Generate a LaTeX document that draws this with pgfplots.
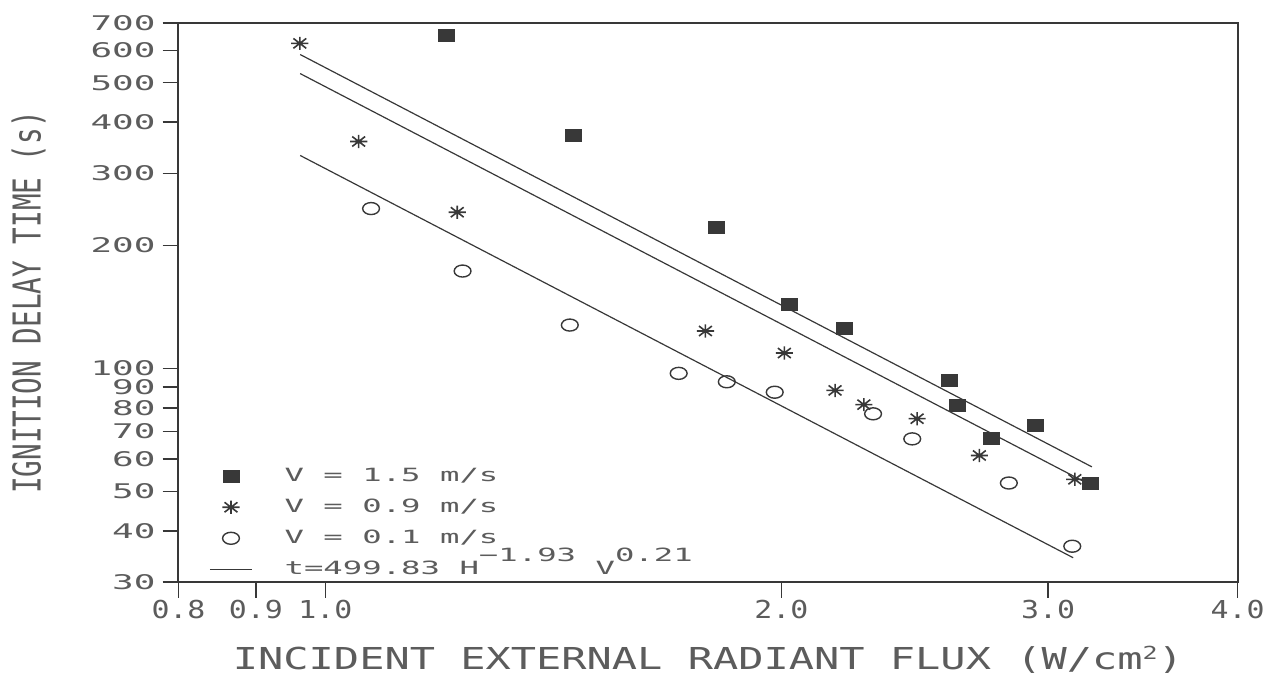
\documentclass[border=0pt]{standalone}
\usepackage{fontspec}
\setmainfont{DejaVu Sans Mono}
\usepackage{graphicx}
\usepackage{pgfplots}
\pgfplotsset{compat=1.18}
\newfontfamily\pf{DejaVu Sans Mono}
\definecolor{ink}{gray}{0.22}
\definecolor{txt}{gray}{0.36}
\newcommand\ytl[1]{\scalebox{1.78}[1]{\pf\fontsize{10.1pt}{12pt}\selectfont #1}}
\newcommand\xtl[1]{\scalebox{1.21}[1]{\pf\fontsize{12.35pt}{14pt}\selectfont #1}}
\newcommand\lgt[1]{\scalebox{1.77}[1]{\pf\fontsize{9.12pt}{11pt}\selectfont #1}}
\pgfdeclareplotmark{ast8}{%
  \pgfpathmoveto{\pgfpoint{0pt}{\pgfplotmarksize}}\pgfpathlineto{\pgfpoint{0pt}{-\pgfplotmarksize}}%
  \pgfpathmoveto{\pgfpoint{\pgfplotmarksize}{0pt}}\pgfpathlineto{\pgfpoint{-\pgfplotmarksize}{0pt}}%
  \pgfpathmoveto{\pgfpoint{0.75\pgfplotmarksize}{0.75\pgfplotmarksize}}\pgfpathlineto{\pgfpoint{-0.75\pgfplotmarksize}{-0.75\pgfplotmarksize}}%
  \pgfpathmoveto{\pgfpoint{0.75\pgfplotmarksize}{-0.75\pgfplotmarksize}}\pgfpathlineto{\pgfpoint{-0.75\pgfplotmarksize}{0.75\pgfplotmarksize}}%
  \pgfusepathqstroke}
\pgfplotstableread{
H t
1.202 654
1.459 372
1.812 221
2.023 143
2.201 125
2.582 93.5
2.612 81.2
2.752 67.5
2.944 72.4
3.199 52.4
}\vhigh
\pgfplotstableread{
H t
0.962 624
1.052 359
1.222 241
1.782 123.4
2.009 109
2.170 88.3
2.267 81.5
2.458 75.3
2.702 61.2
3.124 53.5
}\vmid
\pgfplotstableread{
H t
1.072 246
1.232 173
1.450 127.6
1.711 97.2
1.841 92.7
1.980 87.4
2.299 77.4
2.440 67.2
2.826 52.4
3.112 36.7
}\vlow
\begin{document}
\begin{tikzpicture}
\begin{axis}[
  at={(0pt,0pt)}, anchor=south west,
  scale only axis, width=529.5pt, height=279.5pt,
  xmode=log, ymode=log,
  xmin=0.8, xmax=4, ymin=30, ymax=700,
  axis line style={draw=ink, line width=1pt},
  tick style={draw=ink, line width=0.8pt},
  tick align=outside, major tick length=8pt,
  xtick pos=left, ytick pos=left,
  xtick={0.8,0.9,1,2,3,4},
  xticklabels={\xtl{0.8},\xtl{0.9},\xtl{1.0},\xtl{2.0},\xtl{3.0},\xtl{4.0}},
  ytick={30,40,50,60,70,80,90,100,200,300,400,500,600,700},
  yticklabels={\ytl{30},\ytl{40},\ytl{50},\ytl{60},\ytl{70},\ytl{80},\ytl{90},\ytl{100},\ytl{200},\ytl{300},\ytl{400},\ytl{500},\ytl{600},\ytl{700}},
  minor xtick={}, minor ytick={},
  ticklabel style={text=txt},
  xticklabel style={yshift=2.5pt},
  xlabel={\scalebox{1.39}[1]{\pf\fontsize{15.1pt}{18pt}\selectfont INCIDENT EXTERNAL RADIANT FLUX (W/cm\raisebox{5pt}{\fontsize{9pt}{9pt}\selectfont 2})}},
  xlabel style={at={(axis description cs:0.5,-0.1574)}, anchor=base, text=txt, inner sep=0pt},
  ylabel={\scalebox{0.72}[1]{\pf\fontsize{19.2pt}{22pt}\selectfont IGNITION DELAY TIME (s)}},
  ylabel style={at={(axis description cs:-0.1416,0.5)}, anchor=center, text=txt, inner sep=0pt},
  legend image code/.code={\draw[#1,mark repeat=2,mark phase=2] plot coordinates {(0pt,0pt)(10.5pt,0pt)(21pt,0pt)};},
  legend cell align=left,
  legend style={at={(axis description cs:0.0288,0.0)}, anchor=south west,
    draw=none, fill=none, inner sep=0pt, row sep=3.25pt, column sep=14pt,
    text=txt},
]
\addplot[only marks, mark=square*, mark size=3pt, mark options={xscale=1.33, draw=ink, fill=ink}] table[x=H,y=t] {\vhigh};
\addlegendentry{\lgt{V = 1.5 m/s}}
\addplot[only marks, mark=ast8, mark size=3.3pt, mark options={xscale=1.3, draw=ink, line width=0.8pt}] table[x=H,y=t] {\vmid};
\addlegendentry{\lgt{V = 0.9 m/s}}
\addplot[only marks, mark=o, mark size=3pt, mark options={xscale=1.4, draw=ink, line width=0.7pt}] table[x=H,y=t] {\vlow};
\addlegendentry{\lgt{V = 0.1 m/s}}
\addplot[ink, line width=0.6pt] coordinates {(0.9625,586) (3.206,57.4)};
\addlegendentry{\lgt{t=499.83 H\raisebox{6.5pt}[0pt][0pt]{−1.93} V\raisebox{6.5pt}[0pt][0pt]{0.21}}}
\addplot[ink, line width=0.6pt, forget plot] coordinates {(0.9625,526.3) (3.166,52.9)};
\addplot[ink, line width=0.6pt, forget plot] coordinates {(0.9625,331.8) (3.116,34.4)};
\end{axis}
\pgfresetboundingbox
\path[use as bounding box] (-89.25pt,-49.5pt) rectangle (547.25pt,291pt);
\end{tikzpicture}
\end{document}
